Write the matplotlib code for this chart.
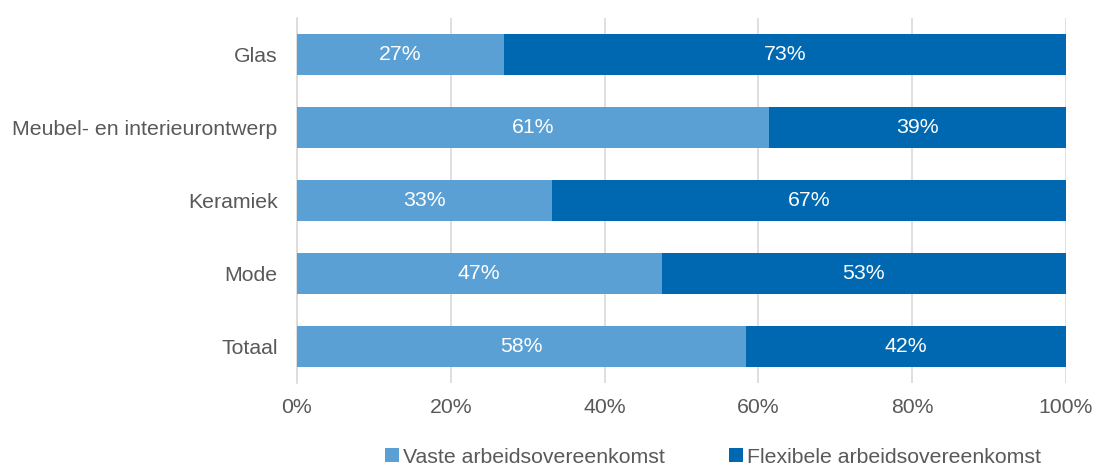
import numpy as np
import matplotlib
matplotlib.use('Agg')
import matplotlib.pyplot as plt

plt.rcParams['font.family'] = ['Liberation Sans', 'DejaVu Sans']

# --- Data
categories = ['Glas', 'Meubel- en interieurontwerp', 'Keramiek', 'Mode', 'Totaal']
vaste      = [26.9, 61.4, 33.1, 47.4, 58.4]
flexibel   = [73.1, 38.6, 66.9, 52.6, 41.6]
series     = ['Vaste arbeidsovereenkomst', 'Flexibele arbeidsovereenkomst']
xticks     = [0, 20, 40, 60, 80, 100]

c_light = '#5BA0D4'
c_dark  = '#0068B0'
c_text  = '#595959'
fs = 15.3

fig, ax = plt.subplots(figsize=(10.94, 4.65), dpi=100)
fig.subplots_adjust(left=297/1094, right=1066/1094, top=1-18/465, bottom=1-383/465)

y = np.arange(len(categories))
vaste = np.array(vaste)
flexibel = np.array(flexibel)
b1 = ax.barh(y, vaste, height=0.55, color=c_light, label=series[0], zorder=3)
b2 = ax.barh(y, flexibel, left=vaste, height=0.55, color=c_dark, label=series[1], zorder=3)

# Data labels
for yi, v, f in zip(y, vaste, flexibel):
    ax.text(v/2, yi, '%d%%' % round(v), ha='center', va='center', color='white', fontsize=fs, zorder=4)
    ax.text(v + f/2, yi, '%d%%' % round(f), ha='center', va='center', color='white', fontsize=fs, zorder=4)

ax.set_ylim(len(categories) - 0.5, -0.5)
ax.set_xlim(0, 100)
ax.set_yticks(y)
ax.set_yticklabels(categories)
ax.set_xticks(xticks)
ax.set_xticklabels(['%d%%' % t for t in xticks])
ax.tick_params(axis='both', length=0, labelsize=fs, labelcolor=c_text)
ax.tick_params(axis='x', pad=11)
ax.tick_params(axis='y', pad=14)

ax.grid(axis='x', color='#D9D9D9', linewidth=1.2, zorder=0)
for s in ['top', 'right', 'bottom']:
    ax.spines[s].set_visible(False)
ax.spines['left'].set_color('#D9D9D9')
ax.spines['left'].set_linewidth(1.2)

fig.legend(handles=[b1, b2], loc='lower center', bbox_to_anchor=(713/1094, -0.045), ncol=2,
           frameon=False, fontsize=fs, handlelength=0.65, handleheight=0.65, handletextpad=0.2,
           columnspacing=3.0, labelcolor=c_text)

fig.savefig('out.png', dpi=100)
